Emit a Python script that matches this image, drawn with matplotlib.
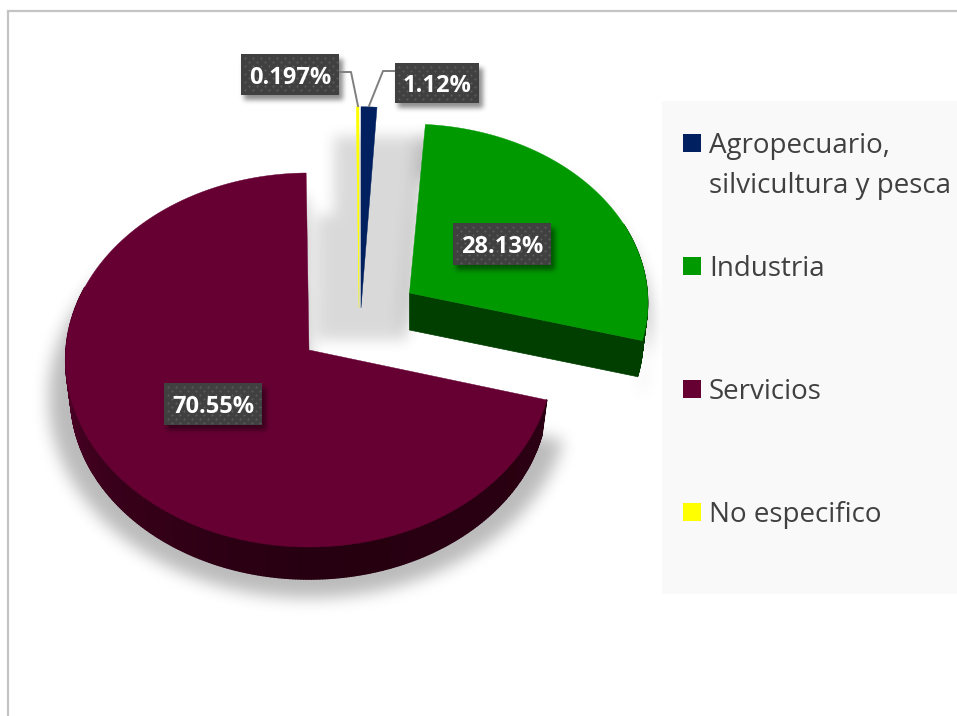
#!/usr/bin/python3

import numpy as np
import matplotlib
matplotlib.use('Agg')
import matplotlib.pyplot as plt
from matplotlib.path import Path
from matplotlib.patches import Polygon, Rectangle
from matplotlib.collections import PolyCollection

plt.rcParams['font.family'] = ['Open Sans', 'DejaVu Sans']

W, H = 957, 716

# datos
sectores = ['Agropecuario,\nsilvicultura y pesca', 'Industria', 'Servicios', 'No especifico']
valores = [1.12, 28.13, 70.55, 0.197]
etiquetas = ['1.12%', '28.13%', '70.55%', '0.197%']
colores = ['#002060', '#009900', '#660033', '#ffff00']

# geometria de cada porcion (pixeles): vertice x, y, rx, ry, grosor
vertice_x = [361, 409.5, 309, 359]
vertice_y = [308, 293, 350, 308]
radio_x = [240, 238, 243, 240]
radio_y = [212, 178, 186.5, 212]
grosor = [0, 37, 36, 0]
PERSP = 0.0535

# cajas de etiquetas: x0, y0, x1, y1
cajas = [(395, 63, 479, 103), (453, 223, 551, 265), (164, 383, 262, 425), (241, 54, 339, 95)]
lineas = [[(395, 71), (383, 71), (369, 106)], None, None, [(339, 72), (351, 72), (358, 106)]]

leyenda_y = [134, 257, 380, 503]
leyenda_base = [153, 276, 399, 522]


def borde(i, t):
	# t en radianes, 0 arriba, sentido horario
	f = 1 / (1 + PERSP * np.cos(t))
	x = vertice_x[i] + radio_x[i] * np.sin(t) * f
	y = vertice_y[i] - radio_y[i] * np.cos(t) * f
	return np.column_stack([x, y])


def angulos(i):
	total = sum(valores)
	ini = sum(valores[:i]) / total * 2 * np.pi
	fin = sum(valores[:i + 1]) / total * 2 * np.pi
	return np.linspace(ini, fin, 200)


def porcion(i):
	apex = [[vertice_x[i], vertice_y[i]]]
	return np.vstack([apex, borde(i, angulos(i))])


def abajo(i, pts):
	apex = np.array([vertice_x[i], vertice_y[i]])
	return apex + (pts - apex) * 0.98 + [0, grosor[i]]


def desenfoque(a, sigma):
	n = int(sigma * 3)
	k = np.exp(-0.5 * (np.arange(-n, n + 1) / sigma) ** 2)
	k = k / k.sum()
	a = np.apply_along_axis(lambda v: np.convolve(v, k, mode='same'), 0, a)
	a = np.apply_along_axis(lambda v: np.convolve(v, k, mode='same'), 1, a)
	return a


def mascara(poligonos):
	yy, xx = np.mgrid[0:H, 0:W]
	pts = np.column_stack([xx.ravel() + 0.5, yy.ravel() + 0.5])
	m = np.zeros(H * W, dtype=bool)
	for pol in poligonos:
		m |= Path(pol).contains_points(pts)
	return m.reshape(H, W).astype(float)


def capa_sombra(ax, poligonos, sigma, alfa, z):
	a = desenfoque(mascara(poligonos), sigma) * alfa
	img = np.zeros((H, W, 4))
	img[..., 3] = a
	ax.imshow(img, extent=(0, W, H, 0), interpolation='bilinear', zorder=z, aspect='auto')


def sombra_pie(i, escala, dy):
	pts = np.vstack([porcion(i), abajo(i, porcion(i))[::-1]])
	c = pts.mean(axis=0)
	if i == 2:
		arco = borde(i, np.linspace(angulos(i)[0], angulos(i)[-1], 200))
		pts = np.vstack([[[vertice_x[i], vertice_y[i]]], arco])
		pts = pts + [0, grosor[i]]
		c = np.array([vertice_x[i], vertice_y[i] + 20.0])
	return c + (pts - c) * escala + [0, dy]


fig = plt.figure(figsize=(W / 100, H / 100), dpi=100)
ax = fig.add_axes([0, 0, 1, 1])
ax.set_xlim(0, W)
ax.set_ylim(H, 0)
ax.axis('off')

# marco
ax.plot([7.5, 7.5, W], [H, 10.5, 10.5], color='#c4c4c4', lw=1.6, zorder=1, solid_joinstyle='miter')

# sombras de la tarta
hueco = np.array([(334, 136), (422, 136), (416, 300), (404, 340), (316, 340), (316, 215), (334, 215)], dtype=float)
capa_sombra(ax, [hueco], 7, 0.15, 2)
capa_sombra(ax, [sombra_pie(2, 1.07, 0), sombra_pie(1, 1.04, 17)], 8, 0.27, 2)

# caras laterales
for i in [2, 1]:
	t = np.linspace(angulos(i)[0], min(angulos(i)[-1], np.radians(290)), 300)
	t = t[np.cos(t) < 0.4]
	arr = borde(i, t)
	aba = abajo(i, arr)
	quads = [np.vstack([arr[j], arr[j + 1], aba[j + 1], aba[j]]) for j in range(len(t) - 1)]
	if i == 2:
		grados = np.degrees(t[:-1])
		r = np.interp(grados, [105, 180, 230, 275], [0x2b, 0x26, 0x38, 0x52])
		g = np.zeros_like(r)
		b = np.interp(grados, [105, 180, 230, 275], [0x12, 0x10, 0x1a, 0x29])
		cols = np.column_stack([r, g, b]) / 255
		ax.add_collection(PolyCollection(quads, facecolors=cols, edgecolors=cols, lw=1.0, zorder=3))
	else:
		ax.add_collection(PolyCollection(quads, facecolors='#003f00', edgecolors='#003f00', lw=0.6, zorder=3))
		fin = borde(i, angulos(i)[-1:])[0]
		apex = np.array([vertice_x[i], vertice_y[i]], dtype=float)
		cara = np.array([apex, fin, abajo(i, fin), abajo(i, apex)])
		ax.add_patch(Polygon(cara, closed=True, fc='#003f00', ec='#003f00', lw=0.5, zorder=3))

# caras superiores
for i in range(len(valores)):
	ax.add_patch(Polygon(porcion(i), closed=True, fc=colores[i], ec=colores[i], lw=0.3, zorder=4))

# leyenda
ax.add_patch(Rectangle((662, 101), W - 662, 493, fc='#f9f9f9', ec='none', zorder=5))
for i in range(len(sectores)):
	ax.add_patch(Rectangle((683, leyenda_y[i]), 18, 18, fc=colores[i], ec='none', zorder=6))
	partes = sectores[i].split('\n')
	for j in range(len(partes)):
		ax.text(709, leyenda_base[i] + j * 40, partes[j], fontsize=20, color='#404040',
			va='baseline', ha='left', zorder=6)

# etiquetas
rects = [np.array([(c[0] + 3, c[1] + 5), (c[2] + 4, c[1] + 5), (c[2] + 4, c[3] + 5), (c[0] + 3, c[3] + 5)], dtype=float) for c in cajas]
capa_sombra(ax, rects, 2.5, 0.45, 7)
for i in range(len(cajas)):
	x0, y0, x1, y1 = cajas[i]
	if lineas[i] is not None:
		lx, ly = zip(*lineas[i])
		ax.plot(lx, ly, color='#7f7f7f', lw=1.4, zorder=8)
	ax.add_patch(Rectangle((x0, y0), x1 - x0, y1 - y0, fc='#404040', ec='none', zorder=8))
	px, py = [], []
	for fila, yp in enumerate(np.arange(y0 + 4, y1 - 1, 4)):
		for xp in np.arange(x0 + 4 + (fila % 2) * 4, x1 - 1, 8):
			px.append(xp)
			py.append(yp)
	ax.scatter(px, py, s=2.2, color='#5c5c5c', linewidths=0, zorder=9)
	ax.text((x0 + x1) / 2 + 0.5, (y0 + y1) / 2 + 3, etiquetas[i], color='white', fontsize=17, fontweight='bold',
		ha='center', va='center', zorder=10)

ax.set_xlim(0, W)
ax.set_ylim(H, 0)
fig.savefig('out.png', dpi=100)
